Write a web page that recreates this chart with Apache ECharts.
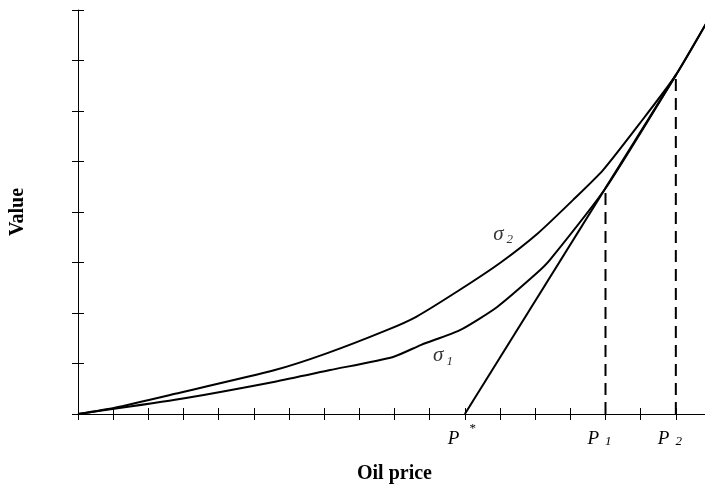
<!DOCTYPE html>
<html>
<head>
<meta charset="utf-8">
<script src="https://cdn.jsdelivr.net/npm/echarts@6/dist/echarts.min.js"></script>
<style>
  html, body { margin: 0; padding: 0; background: #fff; }
  #chart { width: 705px; height: 485px; }
</style>
</head>
<body>
<div id="chart"></div>
<script>
// ---- data (x in oil-price tick units, y in value tick units) ----
var sigma2Curve = [[0,0],[1.05,0.125],[2.76,0.40],[5.60,0.87],[7.07,1.20],[8.78,1.66],[9.63,1.93],[10.86,2.46],[12.0,2.99],[13.08,3.58],[14.08,4.24],[14.93,4.83],[15.98,5.76],[17.0,6.71],[18,7.90]];
var sigma1Curve = [[0,0],[2.76,0.28],[5.60,0.64],[7.17,0.87],[8.96,1.13],[9.76,1.37],[10.86,1.66],[11.92,2.12],[13.08,2.81],[13.42,3.05],[15.0,4.47],[17.0,6.71],[18,7.90]];
var tangentLine = [[11,0],[17,6.71]];
var dropLineP1 = [[15,0],[15,4.47]];
var dropLineP2 = [[17,0],[17,6.71]];
var xTickLabels = {11: '{p|P}{sup|*}', 15: '{p|P}{sub|1}', 17: '{p|P}{sub|2}'};
var curveLabels = [
  {value: [12.09, 3.56], text: '{s|σ}{sub|2}'},
  {value: [10.38, 1.15], text: '{s|σ}{sub|1}'}
];
var xMin = 0, xMax = 18, xStep = 1;
var yMin = 0, yMax = 8, yStep = 1;

var SERIF = '"Liberation Serif", "DejaVu Serif", serif';
var chart = echarts.init(document.getElementById('chart'), null, {renderer: 'canvas'});

function baseX(extra) {
  return Object.assign({
    type: 'value', min: xMin, max: xMax, interval: xStep,
    position: 'bottom',
    splitLine: {show: false},
    axisLine: {show: true, lineStyle: {color: '#000', width: 1}},
    axisTick: {show: true, length: 6, lineStyle: {color: '#000', width: 1}},
    axisLabel: {show: false}
  }, extra);
}
function baseY(extra) {
  return Object.assign({
    type: 'value', min: yMin, max: yMax, interval: yStep,
    position: 'left',
    splitLine: {show: false},
    axisLine: {show: true, lineStyle: {color: '#000', width: 1}},
    axisTick: {show: true, length: 6, lineStyle: {color: '#000', width: 1}},
    axisLabel: {show: false}
  }, extra);
}

var option = {
  backgroundColor: '#fff',
  animation: false,
  grid: {left: 78, right: -6, top: 10, bottom: 71, containLabel: false, outerBoundsMode: 'none'},
  xAxis: [
    baseX({
      name: 'Oil price', nameLocation: 'middle', nameGap: 50,
      nameTextStyle: {fontFamily: SERIF, fontWeight: 'bold', fontSize: 20, color: '#000'},
      axisLabel: {
        show: true, interval: 0, margin: 8,
        formatter: function (v) { return xTickLabels[v] || ''; },
        rich: {
          p: {fontFamily: SERIF, fontStyle: 'italic', fontSize: 19, color: '#000', lineHeight: 26, verticalAlign: 'bottom'},
          sub: {fontFamily: SERIF, fontStyle: 'italic', fontSize: 13, color: '#000', lineHeight: 14, verticalAlign: 'bottom', padding: [0, 12, 0, 6]},
          sup: {fontFamily: SERIF, fontSize: 13, color: '#000', lineHeight: 14, verticalAlign: 'top', padding: [0, 6, 0, 10]}
        }
      }
    }),
    baseX({axisLine: {show: false}, axisTick: {show: true, inside: true, length: 6, lineStyle: {color: '#000', width: 1}}})
  ],
  yAxis: [
    baseY({
      name: 'Value', nameLocation: 'middle', nameGap: 50, nameRotate: 90,
      nameTextStyle: {fontFamily: SERIF, fontWeight: 'bold', fontSize: 20, color: '#000'}
    }),
    baseY({axisLine: {show: false}, axisTick: {show: true, inside: true, length: 6, lineStyle: {color: '#000', width: 1}}})
  ],
  series: [
    {type: 'line', data: sigma2Curve, smooth: 0.2, showSymbol: false, symbol: 'none', lineStyle: {color: '#000', width: 2}},
    {type: 'line', data: sigma1Curve, smooth: 0.2, showSymbol: false, symbol: 'none', lineStyle: {color: '#000', width: 2}},
    {type: 'line', data: tangentLine, showSymbol: false, symbol: 'none', lineStyle: {color: '#000', width: 2}},
    {type: 'line', data: dropLineP1, showSymbol: false, symbol: 'none', lineStyle: {color: '#000', width: 2, type: [12, 7]}},
    {type: 'line', data: dropLineP2, showSymbol: false, symbol: 'none', lineStyle: {color: '#000', width: 2, type: [12, 7]}},
    {
      type: 'scatter', symbolSize: 0,
      data: curveLabels.map(function (d) { return {value: d.value, label: {formatter: d.text}}; }),
      label: {
        show: true, position: 'inside',
        rich: {
          s: {fontFamily: SERIF, fontStyle: 'italic', fontSize: 21, color: '#000', lineHeight: 24, verticalAlign: 'middle'},
          sub: {fontFamily: SERIF, fontStyle: 'italic', fontSize: 13, color: '#000', lineHeight: 18, verticalAlign: 'bottom', padding: [0, 0, 0, 3]}
        }
      }
    }
  ]
};
chart.setOption(option);
</script>
</body>
</html>
